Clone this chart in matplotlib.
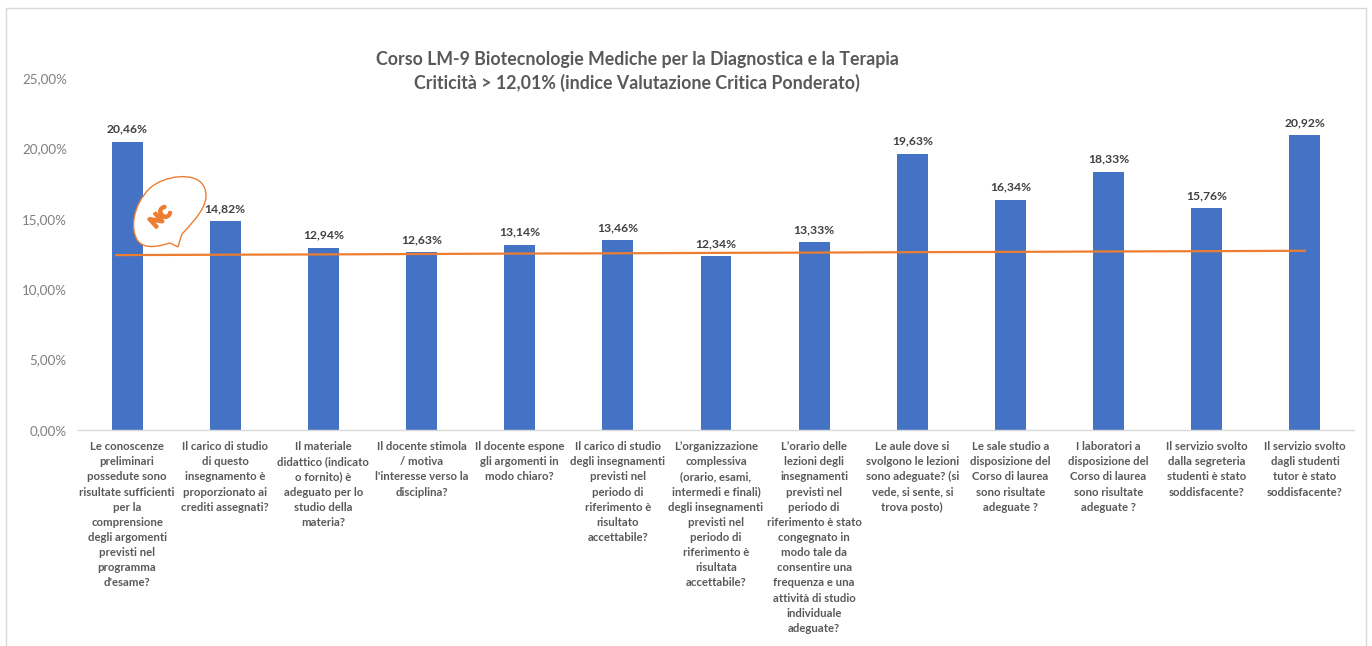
import matplotlib
matplotlib.use("Agg")
import matplotlib.pyplot as plt
import matplotlib.patheffects as pe
from matplotlib.patches import PathPatch
from matplotlib.path import Path
from matplotlib.lines import Line2D
from matplotlib.transforms import Affine2D

plt.rcParams['font.family'] = ['Lato', 'DejaVu Sans']

categories = [
    "Le conoscenze\npreliminari\npossedute sono\nrisultate sufficienti\nper la\ncomprensione\ndegli argomenti\nprevisti nel\nprogramma\nd'esame?",
    "Il carico di studio\ndi questo\ninsegnamento è\nproporzionato ai\ncrediti assegnati?",
    "Il materiale\ndidattico (indicato\no fornito) è\nadeguato per lo\nstudio della\nmateria?",
    "Il docente stimola\n/ motiva\nl'interesse verso la\ndisciplina?",
    "Il docente espone\ngli argomenti in\nmodo chiaro?",
    "Il carico di studio\ndegli insegnamenti\nprevisti nel\nperiodo di\nriferimento è\nrisultato\naccettabile?",
    "L’organizzazione\ncomplessiva\n(orario, esami,\nintermedi e finali)\ndegli insegnamenti\nprevisti nel\nperiodo di\nriferimento è\nrisultata\naccettabile?",
    "L’orario delle\nlezioni degli\ninsegnamenti\nprevisti nel\nperiodo di\nriferimento è stato\ncongegnato in\nmodo tale da\nconsentire una\nfrequenza e una\nattività di studio\nindividuale\nadeguate?",
    "Le aule dove si\nsvolgono le lezioni\nsono adeguate? (si\nvede, si sente, si\ntrova posto)",
    "Le sale studio a\ndisposizione del\nCorso di laurea\nsono risultate\nadeguate ?",
    "I laboratori a\ndisposizione del\nCorso di laurea\nsono risultate\nadeguate ?",
    "Il servizio svolto\ndalla segreteria\nstudenti è stato\nsoddisfacente?",
    "Il servizio svolto\ndagli studenti\ntutor è stato\nsoddisfacente?",
]
values = [20.46, 14.82, 12.94, 12.63, 13.14, 13.46, 12.34, 13.33, 19.63, 16.34, 18.33, 15.76, 20.92]
trend = [12.42, 12.45, 12.47, 12.50, 12.53, 12.55, 12.58, 12.60, 12.63, 12.65, 12.68, 12.70, 12.73]
trend_x = [-0.11, 1, 2, 3, 4, 5, 6, 7, 8, 9, 10, 11, 12]
y_ticks = [0, 5, 10, 15, 20, 25]
title = "Corso LM-9 Biotecnologie Mediche per la Diagnostica e la Terapia\nCriticità > 12,01% (indice Valutazione Critica Ponderato)"

W, H = 1372, 646
fig = plt.figure(figsize=(W / 100, H / 100), dpi=100)
ax = fig.add_axes([78 / W, 1 - 430 / H, 1276 / W, 352 / H])
x = list(range(len(categories)))

ax.bar(x, values, width=0.315, color="#4472C4", zorder=2)
ax.plot(trend_x, trend, color="#ED7D31", lw=1.6, zorder=3)
for xi, v in zip(x, values):
    ax.annotate(f"{v:.2f}%".replace(".", ","), (xi, v), xytext=(0, 5.2), textcoords="offset points",
                ha="center", va="bottom", fontsize=8.7, fontweight="bold", color="#404040")

ax.set_xlim(-0.5, 12.5)
ax.set_ylim(0, 25)
ax.set_yticks(y_ticks)
ax.set_yticklabels([f"{t:.2f}%".replace(".", ",") for t in y_ticks], fontsize=9.6, color="#7F7F7F")
ax.set_xticks(x)
ax.set_xticklabels(categories, fontsize=8.2, fontweight="bold", color="#595959", linespacing=1.46, ha="center")
ax.tick_params(axis="both", length=0)
ax.tick_params(axis="y", pad=8)
ax.tick_params(axis="x", pad=8)
for s in ["top", "right", "left"]:
    ax.spines[s].set_visible(False)
ax.spines["bottom"].set_color("#D9D9D9")
ax.spines["bottom"].set_linewidth(1.0)

fig.text(637 / W, 1 - 71.5 / H, title, ha="center", va="center", fontsize=12.75, fontweight="bold",
         color="#595959", linespacing=1.37)

# Pixel-space helper for the outer frame and the decorative bubble
px = Affine2D().scale(1, -1).translate(0, H)
color_frame = "#D9D9D9"
fig.add_artist(Line2D([6, 6, 1366, 1366], [646, 8, 8, 646], transform=px, color=color_frame, lw=1.0))

verts = [(178, 247), (180, 240), (182, 234),
         (200, 215), (212, 200), (203, 185),
         (195, 172), (165, 175), (150, 188),
         (132, 206), (130, 230), (138, 241),
         (145, 250), (160, 246), (170, 243),
         (178, 247)]
codes = [Path.MOVETO, Path.LINETO, Path.LINETO,
         Path.CURVE4, Path.CURVE4, Path.CURVE4,
         Path.CURVE4, Path.CURVE4, Path.CURVE4,
         Path.CURVE4, Path.CURVE4, Path.CURVE4,
         Path.CURVE4, Path.CURVE4, Path.CURVE4,
         Path.LINETO]
fig.add_artist(PathPatch(Path(verts, codes), transform=px, facecolor="white",
                         edgecolor="#ED7D31", lw=1.0, zorder=5))
fig.text(161 / W, 1 - 218 / H, "NC", rotation=42, ha="center", va="center", fontsize=11.5,
         fontweight="bold", color="#ED7D31", zorder=6,
         path_effects=[pe.withStroke(linewidth=1.8, foreground="#ED7D31")])

fig.savefig("out.png", dpi=100, facecolor="white")
